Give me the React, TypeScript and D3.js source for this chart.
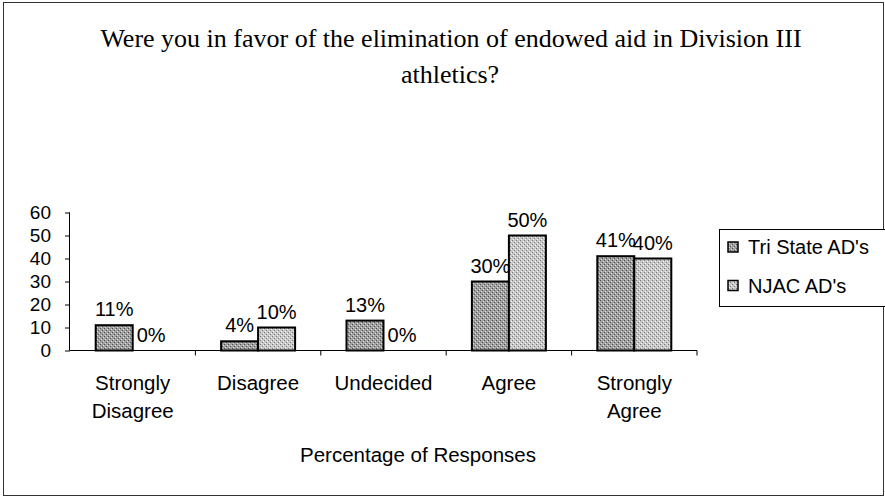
import React, {useEffect, useRef} from "react";
import * as d3 from "d3";

// chart data
const categories = ["Strongly Disagree", "Disagree", "Undecided", "Agree", "Strongly Agree"];
const seriesNames = ["Tri State AD's", "NJAC AD's"];
const triState = [11, 4, 13, 30, 41];
const njac = [0, 10, 0, 50, 40];
const yTicks = [0, 10, 20, 30, 40, 50, 60];

const W = 885;
const H = 498;

const App: React.FC = () => {
    const svgRef = useRef<SVGSVGElement | null>(null);

    useEffect(() => {
        if (!svgRef.current) return;
        const svg = d3.select(svgRef.current);
        svg.selectAll("*").remove();

        // stipple patterns
        const defs = svg.append("defs");
        const makePattern = (id: string, base: string, dot: string, light: string) => {
            const p = defs.append("pattern")
                .attr("id", id)
                .attr("width", 4)
                .attr("height", 4)
                .attr("patternUnits", "userSpaceOnUse");
            p.append("rect").attr("width", 4).attr("height", 4).attr("fill", base);
            p.append("rect").attr("x", 0).attr("y", 0).attr("width", 1).attr("height", 1).attr("fill", dot);
            p.append("rect").attr("x", 2).attr("y", 2).attr("width", 1).attr("height", 1).attr("fill", dot);
            p.append("rect").attr("x", 1).attr("y", 3).attr("width", 1).attr("height", 1).attr("fill", light);
            p.append("rect").attr("x", 3).attr("y", 1).attr("width", 1).attr("height", 1).attr("fill", light);
        };
        makePattern("triPat", "#a0a0a0", "#505050", "#dcdcdc");
        makePattern("njacPat", "#c8c8c8", "#777", "#f2f2f2");
        const fills = ["url(#triPat)", "url(#njacPat)"];

        // outer border
        svg.append("rect")
            .attr("x", 3.5).attr("y", 2.5)
            .attr("width", 880).attr("height", 493)
            .attr("fill", "white")
            .attr("stroke", "#333").attr("stroke-width", 1);

        // title
        const title = svg.append("text")
            .attr("text-anchor", "middle")
            .style("font-family", "'Liberation Serif', 'Times New Roman', serif")
            .style("font-size", "26px")
            .attr("fill", "#000");
        title.append("tspan").attr("x", 451).attr("y", 47)
            .text("Were you in favor of the elimination of endowed aid in Division III");
        title.append("tspan").attr("x", 450).attr("y", 83).text("athletics?");

        const x0 = d3.scaleBand<string>().domain(categories).range([70, 697]);
        const x1 = d3.scaleBand<string>().domain(seriesNames).range([0, 74]);
        const y = d3.scaleLinear().domain([0, 60]).range([350.5, 212.5]);

        const sans = "'Liberation Sans', Arial, sans-serif";

        // y axis
        const yAxis = svg.append("g").attr("transform", "translate(70,0)")
            .call(d3.axisLeft(y).tickValues(yTicks).tickSize(5).tickPadding(14).tickFormat(d3.format("d")));
        yAxis.select(".domain").attr("stroke", "#000").attr("d", `M-0.5,${y(60)}V${y(0)}`);
        yAxis.selectAll(".tick line").attr("stroke", "#000");
        yAxis.selectAll(".tick text")
            .style("font-family", sans).style("font-size", "19px").attr("fill", "#000");

        // x axis
        svg.append("line")
            .attr("x1", 70).attr("x2", 697)
            .attr("y1", y(0)).attr("y2", y(0))
            .attr("stroke", "#000");
        svg.selectAll(".xtick")
            .data(categories.map((_, i) => i + 1))
            .enter()
            .append("line")
            .attr("x1", (i) => 70 + i * x0.step())
            .attr("x2", (i) => 70 + i * x0.step())
            .attr("y1", y(0)).attr("y2", y(0) + 5)
            .attr("stroke", "#000");

        // category labels
        categories.forEach((c) => {
            const cx = (x0(c) ?? 0) + x0.bandwidth() / 2;
            const words = c.split(" ");
            const t = svg.append("text")
                .attr("text-anchor", "middle")
                .style("font-family", sans).style("font-size", "20.5px")
                .attr("fill", "#000");
            words.forEach((w, i) => {
                t.append("tspan").attr("x", cx).attr("y", 390 + i * 28).text(w);
            });
        });

        // x title
        svg.append("text")
            .attr("x", 418).attr("y", 462)
            .attr("text-anchor", "middle")
            .style("font-family", sans).style("font-size", "20.5px")
            .text("Percentage of Responses");

        // bars
        const series = [triState, njac];
        categories.forEach((c, ci) => {
            const gx = (x0(c) ?? 0) + (x0.bandwidth() - 74) / 2;
            series.forEach((vals, si) => {
                const v = vals[ci];
                const bx = gx + (x1(seriesNames[si]) ?? 0);
                if (v > 0) {
                    svg.append("rect")
                        .attr("x", bx).attr("y", y(v))
                        .attr("width", x1.bandwidth()).attr("height", y(0) - y(v))
                        .attr("fill", fills[si])
                        .attr("stroke", "#000").attr("stroke-width", 2);
                }
                svg.append("text")
                    .attr("x", bx + x1.bandwidth() / 2)
                    .attr("y", y(v) - 9)
                    .attr("text-anchor", "middle")
                    .style("font-family", sans).style("font-size", "20px")
                    .text(`${v}%`);
            });
        });

        // legend
        svg.append("rect")
            .attr("x", 719.5).attr("y", 229.5)
            .attr("width", 170).attr("height", 77)
            .attr("fill", "white").attr("stroke", "#000");
        seriesNames.forEach((s, i) => {
            const ly = 247 + i * 38.5;
            svg.append("rect")
                .attr("x", 728).attr("y", ly - 5)
                .attr("width", 10).attr("height", 10)
                .attr("fill", fills[i]).attr("stroke", "#000").attr("stroke-width", 1.5);
            svg.append("text")
                .attr("x", 748).attr("y", ly + 7)
                .style("font-family", sans).style("font-size", "20px")
                .text(s);
        });
    }, []);

    return (
        <svg ref={svgRef} width={W} height={H}
             style={{position: "absolute", left: 0, top: 0, display: "block"}}/>
    );
};

export default App;
